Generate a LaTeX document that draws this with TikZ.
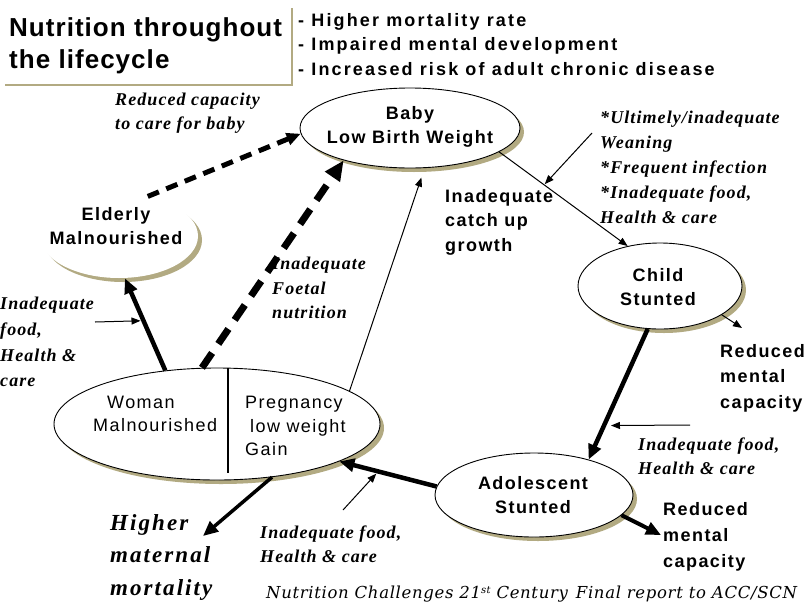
\documentclass[tikz,border=0pt]{standalone}
\usepackage{fontspec}
\setmainfont{Liberation Serif}
\newfontfamily\fsans[LetterSpace=8]{Liberation Sans}
\newfontfamily\ftitle[LetterSpace=4]{Liberation Sans}
\newfontfamily\fbul[LetterSpace=12]{Liberation Sans}
\newfontfamily\fserif[LetterSpace=6]{Liberation Serif}
\newfontfamily\fserifL[LetterSpace=9]{Liberation Serif}
\newfontfamily\ffoot[LetterSpace=4]{DejaVu Serif}
\usetikzlibrary{arrows.meta,shapes.geometric,shadows}
\definecolor{shadowc}{RGB}{178,170,130}
\tikzset{
 oval/.style={ellipse, draw=black, line width=0.9pt, fill=white, inner sep=0pt,
   drop shadow={shadow xshift=4pt, shadow yshift=-4pt, fill=shadowc, opacity=1}},
 ovaltext/.style={align=center, font=\fsans\bfseries\fontsize{18}{24}\selectfont, inner sep=0pt},
 sanslab/.style={align=left, anchor=west, font=\fsans\bfseries\fontsize{18}{25}\selectfont, inner sep=0pt},
 plainlab/.style={align=left, anchor=west, font=\fsans\fontsize{18}{23.5}\selectfont, inner sep=0pt},
 itlab/.style={align=left, anchor=west, font=\fserif\bfseries\itshape\fontsize{18}{24.5}\selectfont, inner sep=0pt},
 thickarrow/.style={line width=4.5pt, -{Triangle[length=15pt,width=13pt]}},
 thinarrow/.style={line width=1pt, -{Triangle[length=9pt,width=7pt]}},
 dashA/.style={line width=5pt, dash pattern=on 12pt off 8pt, -{Triangle[length=14pt,width=12pt]}},
 dashB/.style={line width=7pt, dash pattern=on 18pt off 11pt, -{Triangle[length=20pt,width=17pt]}},
 boxline/.style={draw=shadowc, line width=2pt},
}
\begin{document}
\begin{tikzpicture}[x=1pt,y=-1pt]
\useasboundingbox[fill=white] (0,0) rectangle (810,608);

% title block
\node[align=left, anchor=west, inner sep=0pt, font=\ftitle\bfseries\fontsize{26}{32}\selectfont] (title) at (9,46) {Nutrition throughout\\the lifecycle};
\coordinate (boxa) at (5,85);
\coordinate (boxb) at (292,85);
\coordinate (boxc) at (292,8);
\draw[boxline] (boxa) -- (boxb) -- (boxc);
\node[align=left, anchor=west, inner sep=0pt, font=\fbul\bfseries\fontsize{18}{24.5}\selectfont] (bullets) at (298,44.5) {- Higher mortality rate\\- Impaired mental development\\- Increased risk of adult chronic disease};

% ellipses
\node[oval, draw=none, minimum width=158pt, minimum height=84pt] (elderly) at (119,236) {};
\node[oval, minimum width=220pt, minimum height=80pt] (baby) at (410,128) {};
\node[oval, minimum width=164pt, minimum height=86pt] (child) at (660,286) {};
\node[oval, minimum width=198pt, minimum height=84pt] (adolescent) at (534,495) {};
\node[oval, minimum width=326pt, minimum height=112pt] (woman) at (217,424) {};

\node[ovaltext] (elderlytext) at (116,226) {Elderly\\Malnourished};
\node[ovaltext] (babytext) at (410,127) {Baby\\Low Birth Weight};
\node[ovaltext] (childtext) at (658,287) {Child\\Stunted};
\node[ovaltext] (adoltext) at (533,495) {Adolescent\\Stunted};
\node[plainlab] (womantext) at (93,414) {\hspace*{14pt}Woman\\Malnourished};
\node[plainlab] (pregtext) at (245,426) {Pregnancy\\\hspace*{5pt}low weight\\Gain};
\coordinate (divtop) at (228,368);
\coordinate (divbot) at (228,473);
\draw[line width=1.3pt] (divtop) -- (divbot);

% labels
\node[itlab] (rcap) at (115,113) {Reduced capacity\\to care for baby};
\node[itlab] (foetal) at (272,288) {Inadequate\\Foetal\\nutrition};
\node[sanslab, font=\fsans\bfseries\fontsize{18}{24.5}\selectfont] (catchup) at (445,222) {Inadequate\\catch up\\growth};
\node[itlab, font=\fserif\bfseries\itshape\fontsize{18}{25}\selectfont] (wean) at (600,167) {*Ultimely/inadequate\\Weaning\\*Frequent infection\\*Inadequate food,\\Health \& care};
\node[itlab, font=\fserif\bfseries\itshape\fontsize{18}{25.7}\selectfont] (leftinad) at (0,342) {Inadequate\\food,\\Health \&\\care};
\node[sanslab, font=\fsans\bfseries\fontsize{18}{25.5}\selectfont] (rmcone) at (720,378) {Reduced\\mental\\capacity};
\node[itlab] (rinad) at (638,456) {Inadequate food,\\Health \& care};
\node[sanslab, font=\fsans\bfseries\fontsize{18}{26}\selectfont] (rmctwo) at (663,537) {Reduced\\mental\\capacity};
\node[itlab, font=\fserifL\bfseries\itshape\fontsize{23}{32.5}\selectfont] (hmm) at (110,557) {Higher\\maternal\\mortality};
\node[itlab, font=\fserif\bfseries\itshape\fontsize{18}{23.5}\selectfont] (binad) at (260,544) {Inadequate food,\\Health \& care};
\node[anchor=west, inner sep=0pt, font=\ffoot\itshape\fontsize{16.5}{18}\selectfont] (footer) at (266,594) {Nutrition Challenges 21\raisebox{5pt}{\fontsize{10}{10}\selectfont st} Century\hspace{8pt}Final report to ACC/SCN};

% free ends
\coordinate (rmconetip) at (742,328);
\coordinate (rmctwotip) at (661,535);
\coordinate (hmmtip) at (203,536);
\coordinate (inadtail) at (95,322);
\coordinate (weantail) at (592,133);
\coordinate (rinadtail) at (690,425);
\coordinate (binadtail) at (343,510);

% connectors
\draw[dashA] (elderly.54) -- (baby.183);
\draw[dashB] (woman.105) -- (baby.206);
\draw[thinarrow, shorten >=10pt] (woman.14) -- (baby.290);
\draw[thickarrow] (woman.134) -- coordinate[pos=0.54] (we) (elderly.278);
\draw[thinarrow, shorten >=3pt] (inadtail) -- (we);
\draw[thinarrow] (baby.-15) -- coordinate[pos=0.35] (bc) (child.129);
\draw[thinarrow, shorten >=1pt] (weantail) -- (bc);
\draw[thinarrow] (child.335) -- (rmconetip);
\draw[thickarrow] (child.254) -- coordinate[pos=0.74] (ca) (adolescent.33);
\draw[thinarrow, shorten >=7pt] (rinadtail) -- (ca);
\draw[thickarrow] (adolescent.175) -- coordinate[pos=0.6] (aw) (woman.343);
\draw[thinarrow, shorten >=3pt] (binadtail) -- (aw);
\draw[thickarrow, line width=4pt] (adolescent.347) -- (rmctwotip);
\draw[thickarrow, line width=3.5pt] (woman.316) -- (hmmtip);
\end{tikzpicture}
\end{document}
